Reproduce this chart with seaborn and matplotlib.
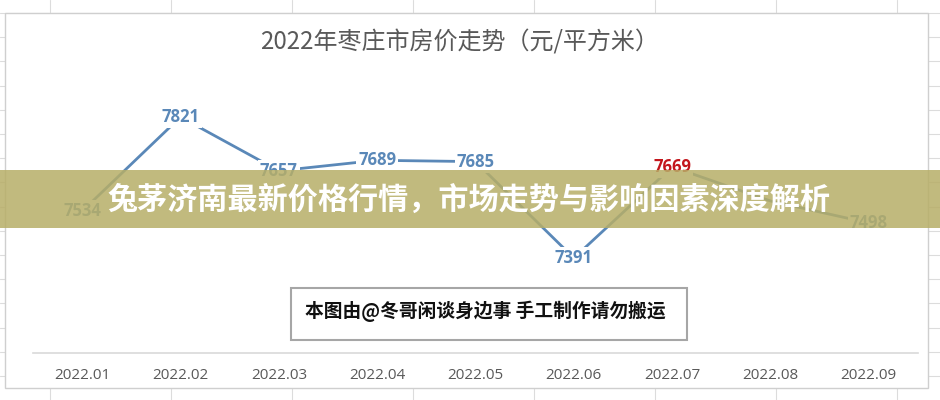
import matplotlib.pyplot as plt
import seaborn as sns
import pandas as pd
from matplotlib.patches import Rectangle

# chart data (2022.08 label is covered by the banner)
months = ['2022.01', '2022.02', '2022.03', '2022.04', '2022.05',
          '2022.06', '2022.07', '2022.08', '2022.09']
prices = [7534, 7821, 7657, 7689, 7685, 7391, 7669, 7565, 7498]
label_shown = [True, True, True, True, True, True, True, False, True]
label_red = [False, False, False, False, False, False, True, False, False]

title = '2022年枣庄市房价走势（元/平方米）'
banner = '兔茅济南最新价格行情，市场走势与影响因素深度解析'
credit = '本图由@冬哥闲谈身边事 手工制作请勿搬运'

df = pd.DataFrame({'pos': range(len(months)), 'price': prices})

sns.set_theme(style="white")
plt.rcParams['font.family'] = ['Open Sans', 'Noto Sans CJK SC', 'DejaVu Sans']

blue = '#5A88B8'
red = '#C3161C'
gray_txt = '#595959'

fig = plt.figure(figsize=(9.4, 4), dpi=100)

# 1. spreadsheet background + white chart panel (pixel coords)
bg = fig.add_axes([0, 0, 1, 1], zorder=0)
bg.set_xlim(0, 940)
bg.set_ylim(400, 0)
bg.axis('off')
for x in range(50, 940, 121):
    bg.axvline(x, color='#DCDCDC', lw=0.8)
y = 13.0
while y < 400:
    bg.axhline(y, color='#DCDCDC', lw=0.8)
    y += 24.2
bg.add_patch(Rectangle((5, 13), 923, 375, facecolor='white',
                       edgecolor='#CFCFCF', lw=1.0, zorder=3))

# 2. the line chart
ax = fig.add_axes([33 / 940, 47 / 400, 885 / 940, 293 / 400], zorder=1)
ax.patch.set_alpha(0)
sns.lineplot(data=df, x='pos', y='price', ax=ax, color=blue, lw=2.0, zorder=2)
ax.set_xlim(-0.5, 8.5)
ax.set_ylim(7101.5, 7994.8)

for i, v in enumerate(prices):
    if not label_shown[i]:
        continue
    ax.text(i, v, str(v), ha='center', va='center', fontsize=12,
            fontweight='bold', color=red if label_red[i] else blue,
            bbox=dict(boxstyle='square,pad=0.12', fc='white', ec='none'),
            zorder=3)

ax.set_xticks(range(len(months)))
ax.set_xticklabels(months, fontsize=11, color=gray_txt)
ax.tick_params(axis='x', length=0, pad=11)
ax.set_yticks([])
ax.set_xlabel('')
ax.set_ylabel('')
for s in ['left', 'right', 'top']:
    ax.spines[s].set_visible(False)
ax.spines['bottom'].set_color('#D9D9D9')
ax.spines['bottom'].set_linewidth(1.2)

# 3. overlay: title, banner, credit box
ov = fig.add_axes([0, 0, 1, 1], zorder=2)
ov.set_xlim(0, 940)
ov.set_ylim(400, 0)
ov.axis('off')
ov.patch.set_alpha(0)

ov.text(460, 43, title, ha='center', va='center', fontsize=17.3,
        color=gray_txt, family=['Noto Sans CJK SC', 'DejaVu Sans'])

ov.add_patch(Rectangle((0, 170), 940, 58, facecolor='#B7AE67',
                       alpha=0.85, edgecolor='none'))
ov.text(469, 200, banner, ha='center', va='center', fontsize=21.7,
        fontweight='heavy', color='white',
        family=['Noto Sans CJK SC', 'DejaVu Sans'])

ov.add_patch(Rectangle((291, 288), 396, 52, facecolor='white',
                       edgecolor='#A6A6A6', lw=1.5))
ov.text(305, 311, credit, ha='left', va='center', fontsize=13.5,
        fontweight='bold', color='#111111',
        family=['Noto Sans CJK SC', 'DejaVu Sans'])

plt.savefig('out.png', dpi=100)
plt.close()
